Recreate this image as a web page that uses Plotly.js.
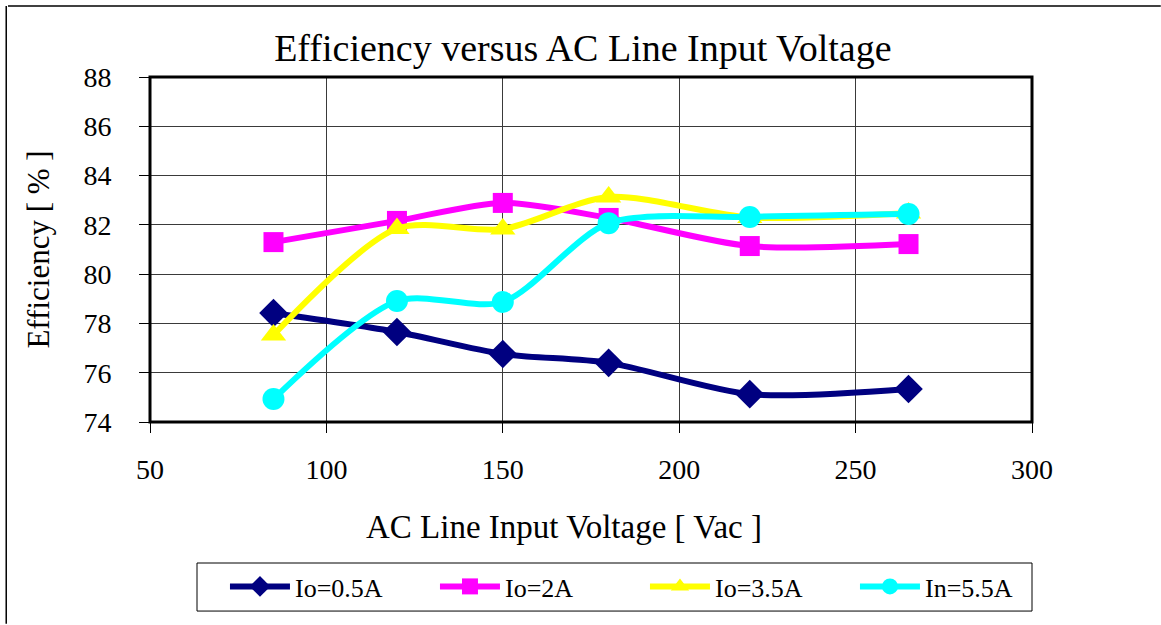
<!DOCTYPE html>
<html>
<head>
<meta charset="utf-8">
<script src="https://cdn.plot.ly/plotly-3.0.1.min.js"></script>
<style>html,body{margin:0;padding:0;background:#fff;}#chart{width:1161px;height:625px;}</style>
</head>
<body>
<div id="chart"></div>
<script>
const voltage = [85, 120, 150, 180, 220, 265];
const io05 = [78.42, 77.65, 76.76, 76.4, 75.13, 75.34];
const io2 = [81.3, 82.16, 82.89, 82.28, 81.14, 81.22];
const io35 = [77.53, 81.85, 81.83, 83.13, 82.3, 82.48];
const in55 = [74.93, 78.91, 78.87, 82.07, 82.32, 82.44];
const seriesNames = ["Io=0.5A", "Io=2A", "Io=3.5A", "In=5.5A"];
const xTicks = [50, 100, 150, 200, 250, 300];
const yTicks = [74, 76, 78, 80, 82, 84, 86, 88];

const FONT = "Liberation Serif";
function tr(y, name, color, symbol, size) {
  return {
    x: voltage, y: y, name: name, type: "scatter", mode: "lines+markers",
    line: {color: color, width: 6, shape: "spline", smoothing: 0.8},
    marker: {color: color, symbol: symbol, size: size, line: {width: 0}}
  };
}
const data = [
  tr(io05, seriesNames[0], "#000080", "diamond", 22),
  tr(io2, seriesNames[1], "#FF00FF", "square", 20),
  tr(io35, seriesNames[2], "#FFFF00", "triangle-up", 22),
  tr(in55, seriesNames[3], "#00FFFF", "circle", 22)
];
const layout = {
  width: 1161, height: 625,
  margin: {l: 150, r: 129, t: 77, b: 203, autoexpand: false},
  paper_bgcolor: "#fff", plot_bgcolor: "#fff",
  font: {family: FONT, color: "#000", size: 28},
  title: {text: "Efficiency versus AC Line Input Voltage", x: 0.502, xanchor: "center", y: 0.923, yanchor: "middle", font: {family: FONT, size: 38}},
  xaxis: {
    range: [50, 300], tickvals: xTicks, ticktext: xTicks.map(String),
    tickfont: {family: FONT, size: 28},
    showgrid: true, gridcolor: "#3a3a3a", gridwidth: 1,
    ticks: "outside", ticklen: 10, tickcolor: "#000", tickwidth: 1,
    zeroline: false, showline: false, ticklabelstandoff: 12
  },
  yaxis: {
    range: [74, 88], tickvals: yTicks, ticktext: yTicks.map(String),
    tickfont: {family: FONT, size: 28},
    showgrid: true, gridcolor: "#3a3a3a", gridwidth: 1,
    ticks: "outside", ticklen: 10, tickcolor: "#000", tickwidth: 1,
    zeroline: false, showline: false, ticklabelstandoff: 22,
    title: {text: "Efficiency [ % ]", standoff: 24, font: {family: FONT, size: 31}}
  },
  annotations: [
    {text: "AC Line Input Voltage [ Vac ]", xref: "paper", yref: "paper", x: 0.469, y: -0.304, xanchor: "center", yanchor: "middle", showarrow: false, font: {family: FONT, size: 33}}
  ],
  showlegend: true,
  legend: {
    orientation: "h", x: 0.085, y: -0.4087, xanchor: "left", yanchor: "top",
    borderwidth: 0, bgcolor: "rgba(0,0,0,0)",
    font: {family: FONT, size: 26},
    entrywidth: 135, entrywidthmode: "pixels", itemwidth: 60,
    tracegroupgap: 0
  },
  shapes: [
    {type: "rect", xref: "paper", yref: "paper", x0: 0, x1: 1, y0: 0, y1: 1, line: {color: "#000", width: 3}, layer: "above"},
    {type: "rect", xref: "paper", yref: "paper", x0: 0.0533, x1: 1.0, y0: -0.548, y1: -0.4087, line: {color: "#000", width: 1}},
    {type: "line", xref: "paper", yref: "paper", x0: -0.161, x1: 1.146, y0: 1.206, y1: 1.206, line: {color: "#000", width: 1.5}},
    {type: "line", xref: "paper", yref: "paper", x0: -0.163, x1: -0.163, y0: 1.206, y1: -0.585, line: {color: "#000", width: 1.5}}
  ]
};
Plotly.newPlot("chart", data, layout, {displayModeBar: false, staticPlot: true});
</script>
</body>
</html>
